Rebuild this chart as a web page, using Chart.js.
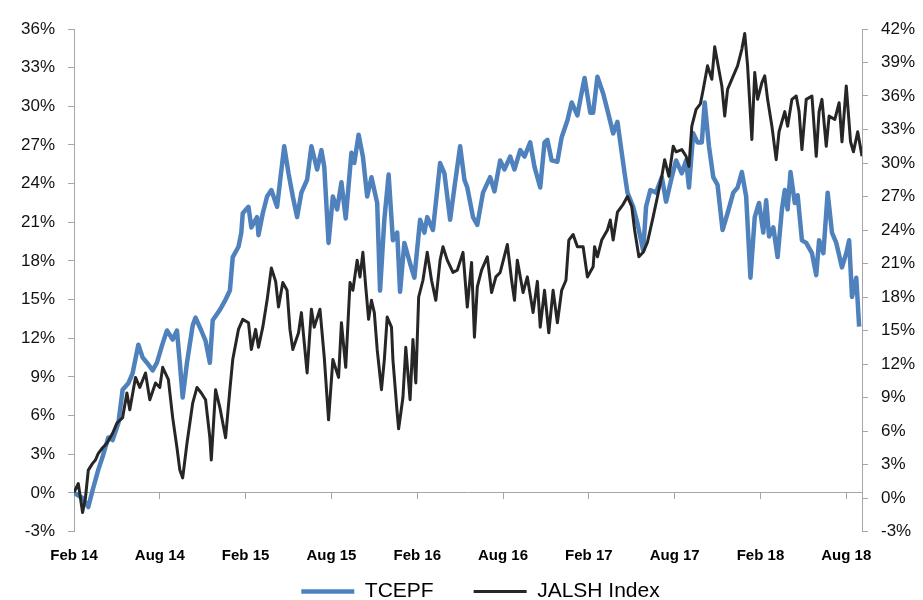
<!DOCTYPE html>
<html>
<head>
<meta charset="utf-8">
<script src="https://cdn.jsdelivr.net/npm/chart.js@4.4.1/dist/chart.umd.min.js"></script>
<style>
    html, body { margin: 0; padding: 0; background: #fff; overflow: hidden; }
    #wrap { width: 923px; height: 612px; position: relative; }
</style>
</head>
<body>
<div id="wrap"><canvas id="chart"></canvas></div>
<script>
// x positions are months since Feb 2014
const tickMonths = [0, 6, 12, 18, 24, 30, 36, 42, 48, 54];
const tickLabels = ['Feb 14', 'Aug 14', 'Feb 15', 'Aug 15', 'Feb 16', 'Aug 16', 'Feb 17', 'Aug 17', 'Feb 18', 'Aug 18'];

const tcepfMonths = [
    0, 0.6, 1.0, 1.3, 1.7, 2.0, 2.4, 2.7, 3.1, 3.4, 3.8, 4.1, 4.5, 4.8, 5.1, 5.5, 5.8, 6.2, 6.5, 6.9,
    7.2, 7.4, 7.6, 7.9, 8.3, 8.5, 8.9, 9.2, 9.5, 9.7, 10.2, 10.6, 10.9, 11.1, 11.5, 11.7, 11.8, 12.2, 12.4, 12.8,
    12.9, 13.2, 13.5, 13.8, 14.2, 14.4, 14.7, 15.0, 15.3, 15.6, 15.9, 16.3, 16.6, 17.0, 17.3, 17.5, 17.8, 18.1, 18.4, 18.7,
    19.0, 19.4, 19.6, 19.9, 20.2, 20.5, 20.8, 21.2, 21.4, 21.7, 22.0, 22.3, 22.6, 22.8, 23.1, 23.5, 23.8, 24.2, 24.5, 24.7,
    25.1, 25.6, 25.9, 26.3, 26.6, 27.0, 27.3, 27.5, 27.9, 28.2, 28.6, 29.1, 29.4, 29.8, 30.1, 30.5, 30.8, 31.2, 31.5, 31.9,
    32.2, 32.6, 32.9, 33.1, 33.4, 33.8, 34.1, 34.5, 34.8, 35.2, 35.4, 35.7, 36.1, 36.3, 36.6, 37.0, 37.3, 37.7, 38.0, 38.3,
    38.5, 38.7, 39.1, 39.4, 39.8, 40.0, 40.3, 40.7, 41.1, 41.4, 41.8, 42.1, 42.5, 42.8, 43.0, 43.3, 43.6, 43.9, 44.1, 44.4,
    44.7, 45.0, 45.35, 45.7, 46.1, 46.4, 46.7, 47.0, 47.3, 47.6, 47.9, 48.2, 48.4, 48.6, 48.9, 49.2, 49.5, 49.7, 49.9, 50.1,
    50.4, 50.6, 50.9, 51.2, 51.6, 51.9, 52.1, 52.4, 52.7, 53.0, 53.3, 53.7, 54.0, 54.2, 54.4, 54.7, 54.9
];
const tcepfValues = [
    0, -0.4, -1.1, 0.2, 1.8, 2.8, 4.3, 4.1, 5.4, 8.0, 8.5, 9.3, 11.5, 10.5, 10.1, 9.5, 10.1, 11.6, 12.6, 11.9,
    12.6, 10.1, 7.4, 10.1, 13.0, 13.6, 12.6, 11.8, 10.1, 13.4, 14.2, 15.0, 15.7, 18.3, 19.1, 20.2, 21.7, 22.2, 20.6, 21.4,
    20.0, 21.7, 23.0, 23.5, 22.2, 24.1, 26.9, 24.8, 23.0, 21.4, 23.3, 24.3, 26.9, 25.1, 26.6, 25.3, 19.4, 23.0, 22.0, 24.1,
    21.3, 26.4, 25.6, 27.8, 26.1, 23.0, 24.5, 22.5, 15.7, 21.2, 24.7, 19.6, 20.2, 15.6, 19.4, 17.8, 16.7, 21.2, 20.2, 21.4,
    20.4, 25.6, 24.8, 21.2, 23.7, 26.9, 24.3, 23.7, 21.4, 20.8, 23.3, 24.5, 23.4, 25.8, 25.1, 26.1, 25.1, 26.6, 26.1, 27.2,
    25.3, 23.7, 27.2, 27.4, 25.8, 25.7, 27.6, 28.9, 30.3, 29.3, 30.5, 32.2, 29.5, 29.5, 32.3, 31.0, 29.7, 27.9, 28.8, 26.4,
    24.8, 23.3, 22.2, 20.9, 18.8, 22.2, 23.5, 23.3, 24.5, 22.6, 24.5, 25.8, 24.8, 25.8, 23.7, 27.9, 27.2, 27.2, 30.3, 26.9,
    24.5, 23.9, 20.4, 21.7, 23.3, 23.7, 24.9, 23.0, 16.7, 21.4, 22.5, 20.2, 22.7, 19.9, 20.6, 18.3, 22.0, 23.5, 22.0, 24.9,
    22.5, 23.1, 19.6, 19.4, 18.6, 16.9, 19.6, 18.6, 23.3, 20.2, 19.4, 17.5, 18.6, 19.6, 15.2, 16.7, 12.9
];

const jalshMonths = [
    0, 0.3, 0.6, 0.8, 1.0, 1.3, 1.5, 1.7, 2.0, 2.3, 2.7, 3.0, 3.4, 3.7, 3.9, 4.3, 4.6, 5.0, 5.3, 5.7,
    6.0, 6.2, 6.6, 6.9, 7.2, 7.4, 7.6, 7.9, 8.3, 8.6, 8.9, 9.2, 9.5, 9.6, 9.9, 10.2, 10.6, 10.9, 11.1, 11.5,
    11.8, 12.2, 12.4, 12.7, 12.9, 13.2, 13.5, 13.8, 14.1, 14.3, 14.6, 14.9, 15.1, 15.3, 15.7, 15.9, 16.3, 16.6, 16.8, 17.2,
    17.5, 17.8, 18.1, 18.5, 18.7, 19.0, 19.3, 19.5, 19.8, 20.0, 20.2, 20.4, 20.6, 20.8, 21.0, 21.2, 21.5, 21.7, 21.9, 22.2,
    22.3, 22.6, 22.7, 23.0, 23.2, 23.5, 23.7, 23.9, 24.1, 24.4, 24.7, 25.0, 25.3, 25.6, 25.8, 26.1, 26.5, 26.8, 27.2, 27.5,
    27.8, 28.0, 28.2, 28.5, 28.9, 29.2, 29.5, 29.8, 30.3, 30.6, 30.8, 31.0, 31.4, 31.7, 32.1, 32.4, 32.6, 32.9, 33.2, 33.5,
    33.8, 34.1, 34.4, 34.6, 34.9, 35.2, 35.6, 35.9, 36.3, 36.4, 36.6, 36.9, 37.3, 37.5, 37.7, 38.0, 38.4, 38.7, 39.0, 39.2,
    39.5, 39.8, 40.1, 40.5, 40.8, 41.1, 41.3, 41.6, 41.9, 42.1, 42.5, 42.8, 43.0, 43.2, 43.5, 43.8, 44.0, 44.3, 44.6, 44.8,
    45.0, 45.3, 45.5, 45.7, 46.1, 46.4, 46.7, 46.9, 47.1, 47.4, 47.6, 47.8, 48.1, 48.3, 48.5, 48.8, 49.1, 49.3, 49.7, 49.9,
    50.2, 50.5, 50.7, 50.9, 51.2, 51.6, 51.9, 52.1, 52.3, 52.6, 52.8, 53.2, 53.5, 53.7, 54.0, 54.3, 54.5, 54.8, 55.1
];
const jalshValues = [
    0.5, 1.3, -1.3, 0.0, 2.5, 3.1, 3.4, 4.0, 4.5, 4.9, 5.8, 6.7, 7.2, 9.4, 7.9, 10.8, 9.9, 11.2, 8.8, 10.3,
    9.9, 11.7, 10.6, 7.2, 4.5, 2.5, 1.8, 4.9, 8.5, 9.9, 9.4, 8.8, 5.4, 3.4, 9.7, 8.1, 5.4, 9.7, 12.4, 15.1,
    16.0, 15.7, 13.3, 15.1, 13.5, 15.3, 17.7, 20.6, 19.4, 17.1, 19.3, 18.6, 15.1, 13.3, 14.8, 16.6, 11.2, 16.9, 15.3, 16.9,
    12.6, 7.0, 12.4, 10.8, 15.7, 11.7, 19.3, 18.6, 21.3, 19.8, 22.0, 18.9, 16.0, 17.7, 16.6, 13.3, 9.7, 12.4, 16.2, 15.3,
    12.4, 7.6, 6.2, 9.0, 13.5, 8.8, 14.2, 10.3, 18.0, 19.5, 22.0, 19.5, 17.7, 21.3, 22.5, 21.3, 20.2, 20.4, 22.0, 17.1,
    21.1, 14.4, 18.9, 20.4, 21.6, 18.4, 19.8, 20.2, 22.7, 19.5, 17.7, 21.3, 18.4, 19.8, 16.6, 19.4, 15.3, 18.6, 14.8, 18.6,
    15.7, 18.6, 19.5, 23.1, 23.6, 22.5, 22.5, 19.8, 20.7, 22.5, 21.6, 23.1, 24.0, 24.9, 23.1, 25.6, 26.3, 27.0, 26.1, 24.0,
    21.6, 22.0, 22.9, 25.2, 27.0, 28.8, 30.3, 28.8, 31.5, 31.0, 31.2, 30.6, 29.7, 33.3, 34.8, 35.3, 36.6, 38.7, 37.5, 40.4,
    39.0, 36.9, 34.2, 36.6, 37.8, 38.7, 40.2, 41.6, 38.7, 32.1, 38.1, 35.7, 37.2, 37.8, 35.7, 33.3, 30.3, 32.8, 34.6, 33.3,
    35.7, 36.0, 34.6, 31.2, 35.7, 36.0, 30.6, 34.6, 35.7, 31.5, 34.2, 33.9, 35.4, 31.9, 36.9, 31.9, 31.0, 32.8, 30.6
];

const blue = '#4F81BD';
const dark = '#262626';
const axisGrey = '#A6A6A6';

function toPoints(xs, ys) {
    return xs.map((x, i) => ({ x: x, y: ys[i] }));
}

function setMonthTicks(scale) {
    scale.ticks = tickMonths.map(v => ({ value: v }));
}

const pct = v => Math.round(v) + '%';

new Chart(document.getElementById('chart'), {
    type: 'line',
    data: {
        datasets: [
            {
                label: 'TCEPF',
                data: toPoints(tcepfMonths, tcepfValues),
                borderColor: blue,
                backgroundColor: blue,
                borderWidth: 4.5,
                yAxisID: 'y',
                order: 1
            },
            {
                label: 'JALSH Index',
                data: toPoints(jalshMonths, jalshValues),
                borderColor: dark,
                backgroundColor: dark,
                borderWidth: 3,
                yAxisID: 'y1',
                order: 0
            }
        ]
    },
    options: {
        responsive: true,
        maintainAspectRatio: false,
        animation: false,
        elements: {
            point: { radius: 0 },
            line: { tension: 0, borderJoinStyle: 'round' }
        },
        // negative right padding nudges the centred legend to the right
        layout: { padding: { top: 29, left: 0, right: -38, bottom: 0 } },
        scales: {
            // data axis, kept as an empty spacer above the legend
            x: {
                type: 'linear',
                min: 0,
                max: 55.1,
                afterBuildTicks: setMonthTicks,
                afterFit: s => { s.height = 9.5; },
                grid: { display: false },
                border: { display: false },
                ticks: { display: false }
            },
            // visible axis drawn along the 0% line, labels pushed down to the bottom
            x2: {
                type: 'linear',
                axis: 'x',
                position: { y: 0 },
                min: 0,
                max: 55.1,
                afterBuildTicks: setMonthTicks,
                grid: { drawOnChartArea: false, tickLength: 6, color: axisGrey },
                border: { color: axisGrey },
                ticks: {
                    callback: (v, i) => tickLabels[i],
                    font: { family: 'Liberation Sans', size: 15, weight: 'bold' },
                    color: '#000',
                    padding: 48,
                    maxRotation: 0,
                    autoSkip: false
                }
            },
            y: {
                position: 'left',
                min: -3,
                max: 36,
                afterFit: s => { s.width = 74; },
                grid: { drawOnChartArea: false, tickLength: 6, color: axisGrey },
                border: { color: axisGrey },
                ticks: {
                    stepSize: 3,
                    callback: pct,
                    font: { family: 'Liberation Sans', size: 17 },
                    color: '#111',
                    padding: 13
                }
            },
            y1: {
                position: 'right',
                min: -3,
                max: 42,
                afterFit: s => { s.width = 99; },
                grid: { drawOnChartArea: false, tickLength: 6, color: axisGrey },
                border: { color: axisGrey },
                ticks: {
                    stepSize: 3,
                    callback: pct,
                    font: { family: 'Liberation Sans', size: 17 },
                    color: '#111',
                    padding: 13
                }
            }
        },
        plugins: {
            tooltip: { enabled: false },
            legend: {
                position: 'bottom',
                labels: {
                    usePointStyle: true,
                    pointStyle: 'line',
                    pointStyleWidth: 53,
                    padding: 40,
                    color: '#000',
                    font: { family: 'Liberation Sans', size: 21 },
                    sort: (a, b) => a.datasetIndex - b.datasetIndex
                }
            }
        }
    }
});
</script>
</body>
</html>
